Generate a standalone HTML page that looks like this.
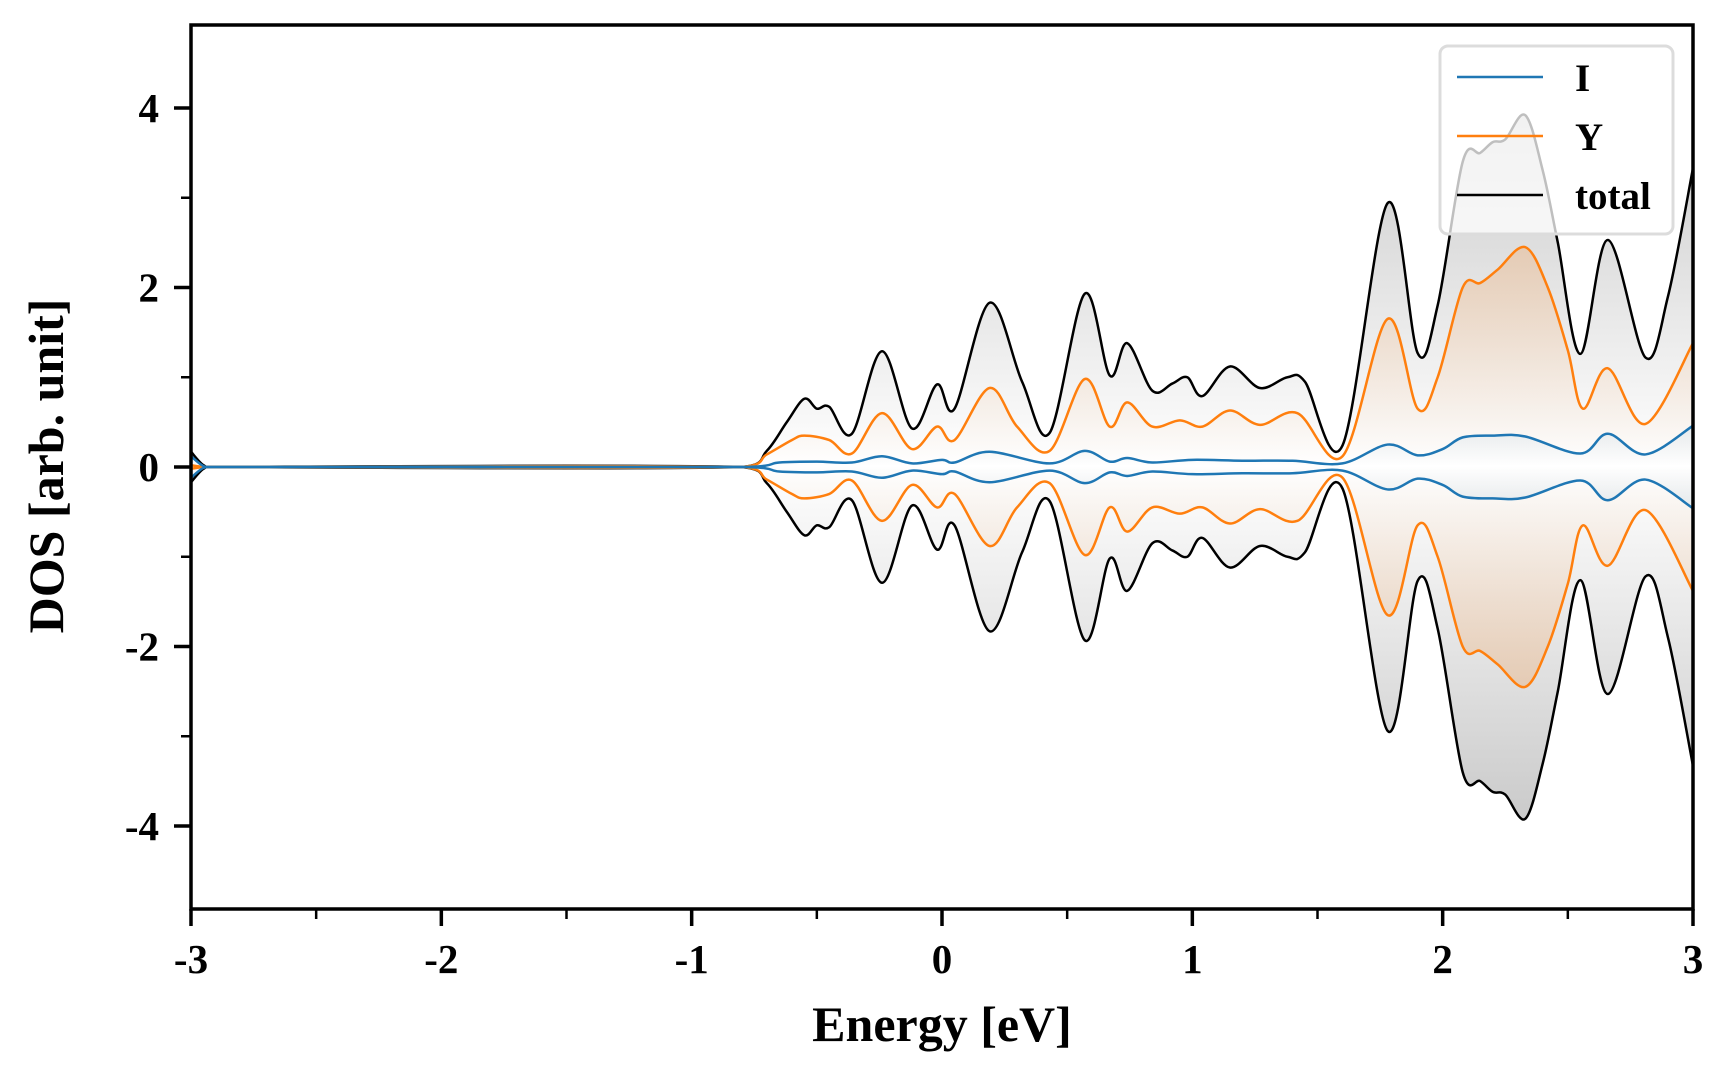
<!DOCTYPE html>
<html><head><meta charset="utf-8"><style>
html,body{margin:0;padding:0;background:#fff;}
svg{display:block;font-family:"Liberation Serif","DejaVu Serif",serif;font-weight:bold;}
</style></head><body>
<svg id="chart" width="1728" height="1080" viewBox="0 0 1728 1080" xmlns="http://www.w3.org/2000/svg">
<defs>
<clipPath id="plotclip"><rect x="191" y="25" width="1502" height="884"/></clipPath>
<linearGradient id="gTotUp" gradientUnits="userSpaceOnUse" x1="0" y1="466" x2="0" y2="107"><stop offset="0" stop-color="#888" stop-opacity="0"/><stop offset="1" stop-color="#888" stop-opacity="0.45"/></linearGradient>
<linearGradient id="gTotDn" gradientUnits="userSpaceOnUse" x1="0" y1="466" x2="0" y2="825"><stop offset="0" stop-color="#888" stop-opacity="0"/><stop offset="1" stop-color="#888" stop-opacity="0.45"/></linearGradient>
<linearGradient id="gYUp" gradientUnits="userSpaceOnUse" x1="0" y1="466" x2="0" y2="247"><stop offset="0" stop-color="#ff7f0e" stop-opacity="0"/><stop offset="1" stop-color="#ff7f0e" stop-opacity="0.2"/></linearGradient>
<linearGradient id="gYDn" gradientUnits="userSpaceOnUse" x1="0" y1="466" x2="0" y2="685"><stop offset="0" stop-color="#ff7f0e" stop-opacity="0"/><stop offset="1" stop-color="#ff7f0e" stop-opacity="0.2"/></linearGradient>
<linearGradient id="gIUp" gradientUnits="userSpaceOnUse" x1="0" y1="466" x2="0" y2="420"><stop offset="0" stop-color="#1f77b4" stop-opacity="0"/><stop offset="1" stop-color="#1f77b4" stop-opacity="0.1"/></linearGradient>
<linearGradient id="gIDn" gradientUnits="userSpaceOnUse" x1="0" y1="466" x2="0" y2="512"><stop offset="0" stop-color="#1f77b4" stop-opacity="0"/><stop offset="1" stop-color="#1f77b4" stop-opacity="0.1"/></linearGradient>
</defs>
<g id="fills" clip-path="url(#plotclip)"></g>
<g id="lines" clip-path="url(#plotclip)"></g>
<g id="legend">
<rect x="1440" y="46" width="233" height="188" rx="8" fill="#fff" fill-opacity="0.75" stroke="#dcdcdc" stroke-width="3"/>
<line x1="1457" y1="77" x2="1543" y2="77" stroke="#1f77b4" stroke-width="2.5"/>
<text x="1575" y="91" font-size="39">I</text>
<line x1="1457" y1="136" x2="1543" y2="136" stroke="#ff7f0e" stroke-width="2.5"/>
<text x="1575" y="150" font-size="39">Y</text>
<line x1="1457" y1="195" x2="1543" y2="195" stroke="#000" stroke-width="2.5"/>
<text x="1575" y="209" font-size="39">total</text>
</g>
<rect x="191" y="25" width="1502" height="884" fill="none" stroke="#000" stroke-width="3.5"/>
<g id="axes"></g>
<text x="942" y="1041" font-size="50" text-anchor="middle">Energy [eV]</text>
<text x="0" y="0" font-size="50" text-anchor="middle" transform="translate(63,466) rotate(-90)">DOS [arb. unit]</text>
</svg>
<script>
const totalE = [-3.0,-2.95,-2.9,-0.8,-0.7,-0.62,-0.55,-0.5,-0.45,-0.36,-0.24,-0.12,-0.02,0.05,0.19,0.32,0.43,0.57,0.67,0.74,0.84,0.92,0.98,1.04,1.15,1.27,1.38,1.45,1.6,1.78,1.9,1.98,2.08,2.15,2.2,2.25,2.33,2.4,2.46,2.55,2.66,2.81,2.9,3.0];
const totalV = [0.17,0.02,0,0,0.18,0.5,0.76,0.65,0.67,0.37,1.29,0.43,0.92,0.65,1.83,0.95,0.38,1.93,1.02,1.38,0.85,0.93,1.0,0.79,1.12,0.88,1.0,0.95,0.24,2.94,1.27,1.8,3.4,3.5,3.62,3.65,3.92,3.3,2.5,1.26,2.53,1.22,1.9,3.33];
const yE = [-3.0,-2.95,-2.9,-0.8,-0.7,-0.6,-0.55,-0.45,-0.36,-0.24,-0.12,-0.02,0.05,0.19,0.3,0.43,0.57,0.67,0.74,0.84,0.95,1.04,1.15,1.27,1.42,1.6,1.78,1.9,1.98,2.08,2.15,2.22,2.33,2.42,2.5,2.56,2.66,2.81,3.0];
const yV = [0.02,0.0,0,0,0.14,0.3,0.35,0.3,0.15,0.6,0.2,0.45,0.3,0.88,0.45,0.18,0.98,0.45,0.72,0.45,0.52,0.45,0.63,0.47,0.6,0.12,1.65,0.65,1.0,2.0,2.05,2.2,2.45,2.0,1.3,0.65,1.1,0.48,1.38];
const iE = [-3.0,-2.95,-2.9,-0.8,-0.65,-0.5,-0.36,-0.24,-0.12,0.0,0.05,0.19,0.43,0.57,0.67,0.74,0.84,1.0,1.2,1.4,1.6,1.78,1.9,2.0,2.08,2.2,2.33,2.55,2.66,2.81,3.0];
const iV = [0.12,0.01,0,0,0.05,0.06,0.05,0.12,0.04,0.08,0.05,0.17,0.04,0.18,0.06,0.1,0.05,0.08,0.07,0.07,0.04,0.25,0.13,0.2,0.33,0.35,0.34,0.15,0.37,0.14,0.46];
const xTicks = [-3,-2,-1,0,1,2,3];
const xTickLabels = ["-3","-2","-1","0","1","2","3"];
const yTicks = [4,2,0,-2,-4];
const yTickLabels = ["4","2","0","-2","-4"];

const X0=191, X1=1693, Y0=909, Y1=25;
const xMin=-3, xMax=3, yMin=-4.925, yMax=4.925;
function sx(v){return X0+(v-xMin)/(xMax-xMin)*(X1-X0);}
function sy(v){return Y0-(v-yMin)/(yMax-yMin)*(Y0-Y1);}
const NS='http://www.w3.org/2000/svg';
function curve(E,V,sign){
  const p=E.map((e,i)=>[sx(e),sy(sign*V[i])]);
  let d='M'+p[0][0].toFixed(2)+','+p[0][1].toFixed(2);
  for(let i=0;i<p.length-1;i++){
    const a=p[i>0?i-1:i],b=p[i],c=p[i+1],n=p[i+2<p.length?i+2:i+1];
    let c1x=b[0]+(c[0]-a[0])/6,c1y=b[1]+(c[1]-a[1])/6;
    let c2x=c[0]-(n[0]-b[0])/6,c2y=c[1]-(n[1]-b[1])/6;
    c1x=Math.min(Math.max(c1x,b[0]),c[0]);c2x=Math.min(Math.max(c2x,b[0]),c[0]);
    d+=' C'+c1x.toFixed(2)+','+c1y.toFixed(2)+' '+c2x.toFixed(2)+','+c2y.toFixed(2)+' '+c[0].toFixed(2)+','+c[1].toFixed(2);
  }
  return d;
}
const fills=document.getElementById('fills'), lines=document.getElementById('lines'), axes=document.getElementById('axes');
const series=[
  {E:totalE,V:totalV,c:'#000',up:'gTotUp',dn:'gTotDn',n:'total'},
  {E:yE,V:yV,c:'#ff7f0e',up:'gYUp',dn:'gYDn',n:'y'},
  {E:iE,V:iV,c:'#1f77b4',up:'gIUp',dn:'gIDn',n:'i'}
];
series.forEach(s=>{
  [1,-1].forEach(sign=>{
    const d=curve(s.E,s.V,sign);
    const last=s.E[s.E.length-1], first=s.E[0];
    const f=document.createElementNS(NS,'path');
    f.setAttribute('d',d+' L'+sx(last)+','+sy(0)+' L'+sx(first)+','+sy(0)+' Z');
    f.setAttribute('fill','url(#'+(sign>0?s.up:s.dn)+')');
    
    
    fills.appendChild(f);
    const l=document.createElementNS(NS,'path');
    l.setAttribute('d',d);l.setAttribute('fill','none');l.setAttribute('stroke',s.c);l.setAttribute('stroke-width','2.5');
    
    
    lines.appendChild(l);
  });
});
function ln(x1,y1,x2,y2,w,name){
  const l=document.createElementNS(NS,'line');
  l.setAttribute('x1',x1);l.setAttribute('y1',y1);l.setAttribute('x2',x2);l.setAttribute('y2',y2);
  l.setAttribute('stroke','#000');l.setAttribute('stroke-width',w);
  
  
  axes.appendChild(l);
}
function tx(x,y,s,anchor,name){
  const t=document.createElementNS(NS,'text');
  t.setAttribute('x',x);t.setAttribute('y',y);t.setAttribute('font-size','41');t.setAttribute('text-anchor',anchor);
  t.textContent=s;
  
  
  axes.appendChild(t);
}
xTicks.forEach((v,i)=>{ln(sx(v),Y0,sx(v),Y0+17,3.5,'x-tick');tx(sx(v),973,xTickLabels[i],'middle','x-tick-label');});
for(let v=-2.5;v<3;v+=1){ln(sx(v),Y0,sx(v),Y0+10,2.5,'x-minor-tick');}
yTicks.forEach((v,i)=>{ln(X0,sy(v),X0-17,sy(v),3.5,'y-tick');tx(159,sy(v)+14,yTickLabels[i],'end','y-tick-label');});
[-3,-1,1,3].forEach(v=>{ln(X0,sy(v),X0-10,sy(v),2.5,'y-minor-tick');});
</script>
</body></html>
